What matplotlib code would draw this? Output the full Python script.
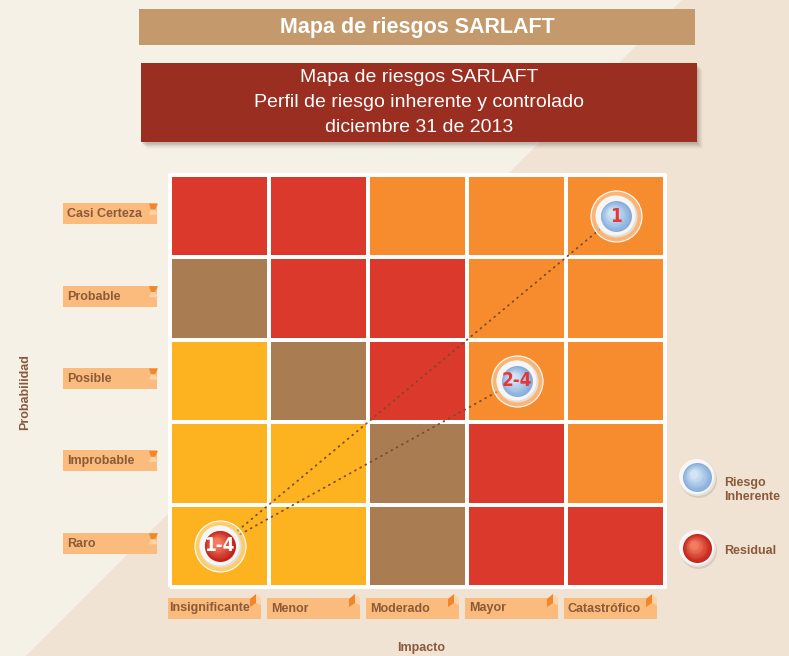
import matplotlib
matplotlib.use('Agg')
import matplotlib.pyplot as plt
from matplotlib.patches import Rectangle, Polygon
from matplotlib.colors import ListedColormap, to_rgb
import matplotlib.transforms as mtransforms
import numpy as np

# ---------------- data ----------------
title_main = "Mapa de riesgos SARLAFT"
subtitle_lines = ["Mapa de riesgos SARLAFT",
                  "Perfil de riesgo inherente y controlado",
                  "diciembre 31 de 2013"]
impact_labels = ["Insignificante", "Menor", "Moderado", "Mayor", "Catastrófico"]
prob_labels = ["Raro", "Improbable", "Posible", "Probable", "Casi Certeza"]  # bottom -> top
# 0 = bajo (amarillo), 1 = moderado (café), 2 = alto (naranja), 3 = extremo (rojo); rows bottom -> top
risk_matrix = [
    [0, 0, 1, 3, 3],  # Raro
    [0, 0, 1, 3, 2],  # Improbable
    [0, 1, 3, 2, 2],  # Posible
    [1, 3, 3, 2, 2],  # Probable
    [3, 3, 2, 2, 2],  # Casi Certeza
]
level_colors = ["#FDB31F", "#A97C52", "#F68C2E", "#DB392B"]
inherent_labels = ["1", "2-4"]
inherent_impact = [4, 3]
inherent_prob = [4, 2]
residual_labels = ["1-4"]
residual_impact = [0]
residual_prob = [0]
legend_labels = ["Riesgo\nInherente", "Residual"]

# ---------------- style ----------------
W, H = 789, 656
BG_CREAM = "#F6F1E7"
BG_BEIGE = "#F0E3D4"
TAN = "#C49A6C"
DARKRED = "#9A2E20"
LABEL_BOX = "#FBBB7D"
LABEL_TXT = "#8A5A3B"
ICON_DARK = "#F2862A"
ICON_LIGHT = "#FCD3A8"
BLUE_BASE, BLUE_LIGHT = "#86AEDB", "#D3E4F5"
RED_BASE, RED_LIGHT = "#C4231A", "#F27B60"
SANS = ['Liberation Sans', 'DejaVu Sans']

GX0, GX1, GY0, GY1 = 170, 665, 175, 587
ncols, nrows = len(impact_labels), len(prob_labels)
cell_w = (GX1 - GX0) / ncols
cell_h = (GY1 - GY0) / nrows

fig = plt.figure(figsize=(W / 100, H / 100), dpi=100)
bg = fig.add_axes([0, 0, 1, 1])
bg.set_xlim(0, W)
bg.set_ylim(H, 0)
bg.axis('off')
bg.add_patch(Rectangle((0, 0), W, H, facecolor=BG_CREAM, edgecolor='none', zorder=0))
bg.add_patch(Polygon([(682, 0), (W, 0), (W, H), (26, H)], closed=True,
                     facecolor=BG_BEIGE, edgecolor='none', zorder=0.5))

# title box
bg.add_patch(Rectangle((139, 9), 556, 36, facecolor=TAN, edgecolor='none', zorder=1))
bg.text(417, 27.5, title_main, color='white', fontsize=15.5, fontweight='bold',
        family=SANS, ha='center', va='center', zorder=2)

# subtitle box with shadow
for k, a in zip(range(1, 7), [0.10, 0.08, 0.07, 0.05, 0.04, 0.03]):
    bg.add_patch(Rectangle((141 + k, 63 + k + 1), 556, 79, facecolor='#5a4a3a',
                           edgecolor='none', alpha=a, zorder=1))
bg.add_patch(Rectangle((141, 63), 556, 79, facecolor=DARKRED, edgecolor='none', zorder=1.5))
for i, line in enumerate(subtitle_lines):
    bg.text(419, 78 + 24.5 * i, line, color='white', fontsize=14, family=SANS,
            ha='center', va='center', zorder=2)

# grid axes
ax = fig.add_axes([GX0 / W, 1 - GY1 / H, (GX1 - GX0) / W, (GY1 - GY0) / H])
ax.set_xlim(0, ncols)
ax.set_ylim(0, nrows)
ax.axis('off')
ax.patch.set_alpha(0)
cmap = ListedColormap(level_colors)
ax.pcolormesh(np.arange(ncols + 1), np.arange(nrows + 1), np.array(risk_matrix),
              cmap=cmap, vmin=-0.5, vmax=3.5, edgecolors='white', linewidth=1.6,
              zorder=1, clip_on=False)

# row labels
for i, lab in enumerate(prob_labels):
    cy = GY1 - (i + 0.5) * cell_h - 2.5
    bg.add_patch(Rectangle((63, cy - 10.5), 94, 21, facecolor=LABEL_BOX,
                           edgecolor='none', zorder=1))
    bg.add_patch(Polygon([(149, cy - 10), (158, cy - 10), (155, cy - 4), (151, cy - 4)],
                         facecolor=ICON_DARK, edgecolor='none', zorder=1.2))
    bg.add_patch(Polygon([(151, cy - 4), (155, cy - 4), (158, cy + 1), (149, cy + 1)],
                         facecolor=ICON_LIGHT, edgecolor='none', zorder=1.2))
    bg.text(67, cy + 0.5, lab, color=LABEL_TXT, fontsize=9, fontweight='bold',
            family=SANS, ha='left', va='center', zorder=2)

# column labels
for j, lab in enumerate(impact_labels):
    left = GX0 + j * cell_w - 2
    bg.add_patch(Rectangle((left, 598), 93, 21, facecolor=LABEL_BOX,
                           edgecolor='none', zorder=1))
    bg.add_patch(Polygon([(left + 82, 599), (left + 88, 594), (left + 88, 603), (left + 82, 607)],
                         facecolor=ICON_DARK, edgecolor='none', zorder=1.2))
    bg.add_patch(Polygon([(left + 88, 594), (left + 93, 598), (left + 93, 605), (left + 88, 603)],
                         facecolor=ICON_LIGHT, edgecolor='none', zorder=1.2))
    bg.text(left + (1 if j == 0 else 4), 608.5, lab, color=LABEL_TXT, fontsize=9,
            fontweight='bold', family=SANS, ha='left', va='center', zorder=2)

bg.text(421, 648, "Impacto", color=LABEL_TXT, fontsize=9, fontweight='bold',
        family=SANS, ha='center', va='center')
bg.text(25, 392, "Probabilidad", color=LABEL_TXT, fontsize=9, fontweight='bold',
        family=SANS, ha='center', va='center', rotation=90)


def blend(c1, c2, t):
    a, b = np.array(to_rgb(c1)), np.array(to_rgb(c2))
    return tuple(a + (b - a) * t)


def dot(axis, x, y, r_px, color, dx=0, dy=0, alpha=1.0, z=5, mec='none', mew=0):
    tr = mtransforms.offset_copy(axis.transData, fig=fig, x=dx * 0.72, y=-dy * 0.72,
                                 units='points')
    axis.plot([x], [y], 'o', ms=2 * r_px * 0.72, mfc=color, mec=mec, mew=mew,
              alpha=alpha, transform=tr, zorder=z, clip_on=False)


def sphere(axis, x, y, r_px, base, light, z):
    n = 10
    for k in range(n):
        t = k / (n - 1)
        rr = r_px * (1 - 0.72 * t)
        off = (r_px - rr) * 0.30
        dot(axis, x, y, rr, blend(base, light, t), dx=-off, dy=-off, z=z + 0.01 * k)


def risk_marker(axis, x, y, base, light, label, tcolor, halo=True):
    if halo:
        dot(axis, x, y, 25.5, 'white', alpha=0.35, z=5)
        dot(axis, x, y, 25.5, 'none', z=5.05, mec=(1, 1, 1, 0.6), mew=0.8)
        dot(axis, x, y, 21, '#E4DFD8', z=5.1)
        dot(axis, x, y, 20, '#F7F6F3', dx=-0.8, dy=-0.8, z=5.2)
        r = 15.5
    else:
        dot(axis, x, y, 18.5, '#BDB4AA', dx=1.5, dy=2, alpha=0.5, z=5)
        dot(axis, x, y, 18.5, '#E6E2DD', z=5.1)
        dot(axis, x, y, 17.5, '#F8F7F5', dx=-0.8, dy=-0.8, z=5.2)
        r = 14.5
    sphere(axis, x, y, r, base, light, z=6)
    if label:
        axis.text(x, y, label, color=tcolor, fontsize=13.5, fontweight='bold',
                  family='DejaVu Sans', fontstretch='condensed',
                  ha='center', va='center', zorder=8)


# dotted connector lines from residual to inherent
rx, ry = residual_impact[0] + 0.5, residual_prob[0] + 0.5
for ix, iy in zip(inherent_impact, inherent_prob):
    ax.plot([rx, ix + 0.5], [ry, iy + 0.5], linestyle=(0, (0.5, 2.8)), lw=1.3,
            color='#7A4A30', dash_capstyle='round', zorder=3, clip_on=False)

for lab, ix, iy in zip(inherent_labels, inherent_impact, inherent_prob):
    risk_marker(ax, ix + 0.5, iy + 0.5, BLUE_BASE, BLUE_LIGHT, lab, '#E5363A')
for lab, ix, iy in zip(residual_labels, residual_impact, residual_prob):
    risk_marker(ax, ix + 0.5, iy + 0.5, RED_BASE, RED_LIGHT, lab, 'white')

# legend
risk_marker(bg, 697, 477, BLUE_BASE, BLUE_LIGHT, None, None, halo=False)
risk_marker(bg, 697, 548, RED_BASE, RED_LIGHT, None, None, halo=False)
bg.text(724, 490, legend_labels[0], color=LABEL_TXT, fontsize=9, fontweight='bold',
        family=SANS, ha='left', va='center', linespacing=1.25)
bg.text(724, 551, legend_labels[1], color=LABEL_TXT, fontsize=9, fontweight='bold',
        family=SANS, ha='left', va='center')

fig.savefig('out.png', dpi=100)
